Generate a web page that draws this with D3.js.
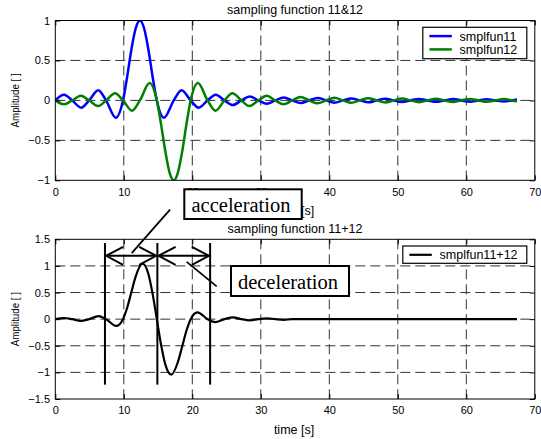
<!DOCTYPE html>
<html>
<head>
<meta charset="utf-8">
<script src="https://cdn.jsdelivr.net/npm/d3@7"></script>
<style>
  html, body { margin: 0; padding: 0; background: #fff; }
  svg { display: block; }
  text { font-family: "Liberation Sans", Arial, sans-serif; fill: #000; }
  text.boxlabel { font-family: "Liberation Serif", "Times New Roman", serif; }
</style>
</head>
<body>
<svg id="fig" width="541" height="439"></svg>
<script>
// ---------------- data ----------------
const xTicks = [0, 10, 20, 30, 40, 50, 60, 70];
const yTicksTop = [-1, -0.5, 0, 0.5, 1];
const yTicksBottom = [-1.5, -1, -0.5, 0, 0.5, 1, 1.5];

// sampling function 11 (time [s], amplitude)
const time11 = [0.00, 1.28, 2.47, 3.78, 4.94, 6.27, 7.41, 8.82, 9.88, 10.50, 11.11, 11.73, 12.35, 12.97, 13.59, 14.20,
  14.82, 15.88, 17.29, 18.43, 19.76, 20.92, 22.23, 23.42, 24.70, 25.91, 27.17, 28.38, 29.64, 30.88, 32.11, 33.35,
  34.58, 35.82, 37.05, 38.29, 39.52, 40.76, 41.99, 43.23, 44.46, 45.70, 46.93, 48.17, 49.40, 50.64, 51.87, 53.11,
  54.34, 55.58, 56.81, 58.05, 59.28, 60.52, 61.75, 62.99, 64.22, 65.46, 66.69, 67.40];
const smplfun11 = [0, 0.071, 0, -0.091, 0, 0.128, 0, -0.217, 0, 0.30, 0.637, 0.90, 1.0, 0.90, 0.637, 0.30,
  0, -0.217, 0, 0.128, 0, -0.091, 0, 0.071, 0, -0.058, 0, 0.049, 0, -0.042, 0, 0.037,
  0, -0.033, 0, 0.030, 0, -0.028, 0, 0.025, 0, -0.024, 0, 0.022, 0, -0.021, 0, 0.019,
  0, -0.018, 0, 0.017, 0, -0.016, 0, 0.015, 0, -0.015, 0, 0.011];

// sampling function 12
const time12 = [0.00, 1.26, 2.47, 3.73, 4.94, 6.22, 7.41, 8.72, 9.88, 11.21, 12.35, 13.76, 14.82, 15.44, 16.06, 16.67,
  17.29, 17.91, 18.53, 19.14, 19.76, 20.82, 22.23, 23.37, 24.70, 25.86, 27.17, 28.36, 29.64, 30.85, 32.11, 33.32,
  34.58, 35.82, 37.05, 38.29, 39.52, 40.76, 41.99, 43.23, 44.46, 45.70, 46.93, 48.17, 49.40, 50.64, 51.87, 53.11,
  54.34, 55.58, 56.81, 58.05, 59.28, 60.52, 61.75, 62.99, 64.22, 65.46, 66.69, 67.40];
const smplfun12 = [0, -0.049, 0, 0.058, 0, -0.071, 0, 0.091, 0, -0.128, 0, 0.217, 0, -0.30, -0.637, -0.90,
  -1.0, -0.90, -0.637, -0.30, 0, 0.217, 0, -0.128, 0, 0.091, 0, -0.071, 0, 0.058, 0, -0.049,
  0, 0.042, 0, -0.037, 0, 0.033, 0, -0.030, 0, 0.028, 0, -0.025, 0, 0.024, 0, -0.022,
  0, 0.021, 0, -0.019, 0, 0.018, 0, -0.017, 0, 0.016, 0, -0.012];

// sampling function 11+12
const timeSum = [0.00, 1.24, 2.47, 3.70, 4.94, 6.30, 7.41, 8.89, 9.88, 10.50, 11.11, 11.73, 12.72, 13.59, 14.20,
  14.82, 15.44, 16.06, 16.92, 17.91, 18.53, 19.14, 19.76, 20.75, 22.23, 23.34, 24.70, 25.94, 27.17, 28.40,
  29.64, 30.88, 32.11, 33.35, 34.58, 67.40];
const smplfunSum = [0, 0.022, 0, -0.033, 0, 0.057, 0, -0.128, 0, 0.218, 0.509, 0.800, 1.042, 0.849, 0.480,
  0, -0.480, -0.849, -1.042, -0.800, -0.509, -0.218, 0, 0.128, 0, -0.057, 0, 0.033, 0, -0.022,
  0, 0.016, 0, -0.012, 0, 0];

// annotation geometry in bottom-axes units (time [s], amplitude)
const markerTimes = [7.25, 14.9, 22.6];
const markerSpan = [-1.23, 1.43];
const arrowLevel = 1.19;
const accelLeader = [[16.75, 2.056], [11.15, 1.24]];
const decelLeader = [[19.18, 1.075], [23.56, 0.615]];

// ---------------- layout ----------------
const svg = d3.select("#fig");
const X0 = 55.3, X1 = 534.8;
const panels = [
  { top: 20.5, bottom: 180.3, yDomain: [-1, 1], yTicks: yTicksTop, title: "sampling function 11&12",
    series: [
      { name: "smplfun11", t: time11, v: smplfun11, color: "#0000ff", width: 2.5 },
      { name: "smplfun12", t: time12, v: smplfun12, color: "#008000", width: 2.5 }
    ],
    legend: { w: 104, h: 31.4, dx: 8, dy: 6.8, row: 13.3 } },
  { top: 239.3, bottom: 399, yDomain: [-1.5, 1.5], yTicks: yTicksBottom, title: "sampling function 11+12",
    series: [
      { name: "smplfun11+12", t: timeSum, v: smplfunSum, color: "#000000", width: 2.2 }
    ],
    legend: { w: 124, h: 17.3, dx: 8, dy: 6.7, row: 13.3 } }
];

const fmt = d3.format("~g");
const scales = [];

panels.forEach((p, i) => {
  const x = d3.scaleLinear().domain([0, 70]).range([X0, X1]);
  const y = d3.scaleLinear().domain(p.yDomain).range([p.bottom, p.top]);
  scales.push({ x, y });
  const g = svg.append("g");

  g.append("rect").attr("x", X0).attr("y", p.top).attr("width", X1 - X0).attr("height", p.bottom - p.top)
    .attr("fill", "#fff");

  // dashed grid
  const grid = g.append("g").attr("stroke", "#333").attr("stroke-width", 1).attr("stroke-dasharray", "10,5");
  grid.selectAll("line.v").data(xTicks.slice(1, -1)).join("line")
    .attr("x1", d => x(d)).attr("x2", d => x(d)).attr("y1", p.top).attr("y2", p.bottom);
  grid.selectAll("line.h").data(p.yTicks.slice(1, -1)).join("line")
    .attr("x1", X0).attr("x2", X1).attr("y1", d => y(d)).attr("y2", d => y(d));

  // curves
  const clipId = "clip" + i;
  g.append("clipPath").attr("id", clipId).append("rect")
    .attr("x", X0).attr("y", p.top).attr("width", X1 - X0).attr("height", p.bottom - p.top);
  const line = d3.line().x(d => x(d[0])).y(d => y(d[1])).curve(d3.curveMonotoneX);
  p.series.forEach(s => {
    g.append("path").attr("clip-path", `url(#${clipId})`)
      .datum(s.t.map((t, k) => [t, s.v[k]]))
      .attr("d", line).attr("fill", "none").attr("stroke", s.color)
      .attr("stroke-width", s.width).attr("stroke-linejoin", "round");
  });

  // axes with inward ticks
  const styleAxis = sel => {
    sel.select(".domain").remove();
    sel.selectAll(".tick line").attr("stroke", "#000");
    sel.selectAll(".tick text").attr("font-size", "11px").attr("fill", "#000");
  };
  g.append("g").attr("transform", `translate(0,${p.bottom})`)
    .call(d3.axisBottom(x).tickValues(xTicks).tickFormat(fmt).tickSizeInner(-5).tickSizeOuter(0).tickPadding(7.6))
    .call(styleAxis);
  g.append("g").attr("transform", `translate(0,${p.top})`)
    .call(d3.axisTop(x).tickValues(xTicks).tickFormat("").tickSizeInner(-5).tickSizeOuter(0))
    .call(styleAxis);
  g.append("g").attr("transform", `translate(${X0},0)`)
    .call(d3.axisLeft(y).tickValues(p.yTicks).tickFormat(fmt).tickSizeInner(-5).tickSizeOuter(0).tickPadding(5.3))
    .call(styleAxis);
  g.append("g").attr("transform", `translate(${X1},0)`)
    .call(d3.axisRight(y).tickValues(p.yTicks).tickFormat("").tickSizeInner(-5).tickSizeOuter(0))
    .call(styleAxis);

  g.append("rect").attr("x", X0).attr("y", p.top).attr("width", X1 - X0).attr("height", p.bottom - p.top)
    .attr("fill", "none").attr("stroke", "#000").attr("stroke-width", 1);

  // title, axis labels
  g.append("text").attr("x", (X0 + X1) / 2).attr("y", p.top - 6.3).attr("text-anchor", "middle")
    .attr("font-size", "12.5px").text(p.title);
  g.append("text").attr("x", (X0 + X1) / 2 - 1).attr("y", p.bottom + 35).attr("text-anchor", "middle")
    .attr("font-size", "12.5px").text("time [s]");
  g.append("text").attr("transform", `translate(15,${(p.top + p.bottom) / 2}) rotate(-90)`)
    .attr("text-anchor", "middle").attr("dy", "0.35em").attr("font-size", "11.5px")
    .attr("textLength", 54).attr("lengthAdjust", "spacingAndGlyphs").text("Amplitude [ ]");

  // legend
  const L = p.legend;
  const lg = g.append("g").attr("transform", `translate(${X1 - L.dx - L.w},${p.top + L.dy})`);
  lg.append("rect").attr("width", L.w).attr("height", L.h).attr("fill", "#fff")
    .attr("stroke", "#000").attr("stroke-width", 1.2);
  p.series.forEach((s, k) => {
    const cy = 8.8 + k * L.row;
    lg.append("line").attr("x1", 6.6).attr("x2", 29).attr("y1", cy).attr("y2", cy)
      .attr("stroke", s.color).attr("stroke-width", s.width);
    lg.append("text").attr("x", 36.8).attr("y", cy).attr("dy", "0.36em").attr("font-size", "12.5px").text(s.name);
  });
});

// ---------------- annotations ----------------
const { x: xb, y: yb } = scales[1];
const ann = svg.append("g").attr("stroke", "#000").attr("fill", "none").attr("stroke-linecap", "butt");

markerTimes.forEach(t => {
  ann.append("line").attr("x1", xb(t)).attr("x2", xb(t))
    .attr("y1", yb(markerSpan[1])).attr("y2", yb(markerSpan[0])).attr("stroke-width", 2);
});

// double-headed arrows between successive markers
const head = (tipX, tipY, dir) => {
  const wx = 17 * dir, wy = 9;
  ann.append("path").attr("d", `M${tipX + wx},${tipY - wy}L${tipX},${tipY}L${tipX + wx},${tipY + wy}`)
    .attr("stroke-width", 2);
};
for (let k = 0; k < markerTimes.length - 1; k++) {
  const a = xb(markerTimes[k]) + 1.2, b = xb(markerTimes[k + 1]) - 1.2, yy = yb(arrowLevel);
  ann.append("line").attr("x1", a).attr("x2", b).attr("y1", yy).attr("y2", yy).attr("stroke-width", 2);
  head(a, yy, 1);
  head(b, yy, -1);
}

[accelLeader, decelLeader].forEach(seg => {
  ann.append("line").attr("x1", xb(seg[0][0])).attr("y1", yb(seg[0][1]))
    .attr("x2", xb(seg[1][0])).attr("y2", yb(seg[1][1])).attr("stroke-width", 1.8);
});

// label boxes
const boxes = [
  { text: "acceleration", x: 184.3, y: 189.3, w: 117.4, h: 29.7 },
  { text: "deceleration", x: 231, y: 266, w: 118, h: 30 }
];
boxes.forEach(b => {
  svg.append("rect").attr("x", b.x).attr("y", b.y).attr("width", b.w).attr("height", b.h)
    .attr("fill", "#fff").attr("stroke", "#000").attr("stroke-width", 2);
  svg.append("text").attr("class", "boxlabel")
    .attr("x", b.x + b.w / 2 - 2).attr("y", b.y + 22.5).attr("text-anchor", "middle")
    .attr("font-size", "20.5px").text(b.text);
});
</script>
</body>
</html>
